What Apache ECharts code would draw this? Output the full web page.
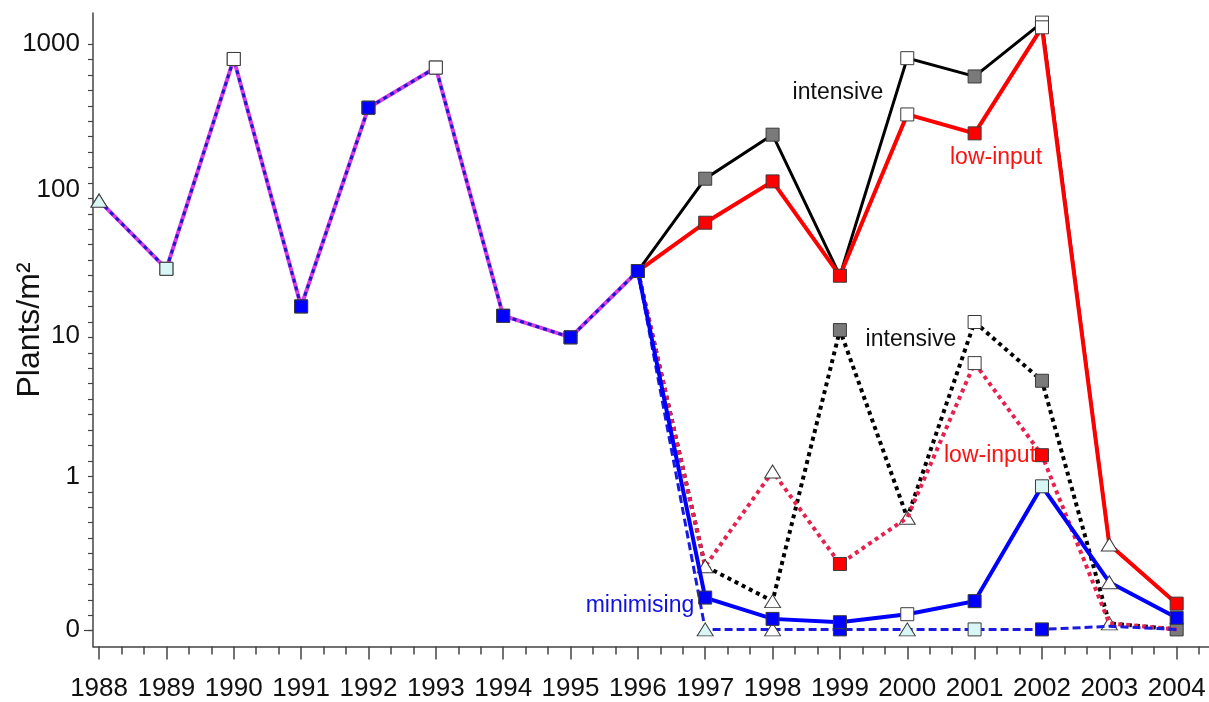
<!DOCTYPE html>
<html><head><meta charset="utf-8">
<script src="https://cdn.jsdelivr.net/npm/echarts@6/dist/echarts.min.js"></script>
<style>html,body{margin:0;padding:0;background:#fff}#c{width:1209px;height:702px}</style>
</head><body><div id="c"></div>
<script>
// ---- data ----
const historyYears = [1988, 1989, 1990, 1991, 1992, 1993, 1994, 1995, 1996];
const historyValues = [85, 29, 790, 16, 367, 690, 13.8, 9.8, 28];
const scenarioYears = [1996, 1997, 1998, 1999, 2000, 2001, 2002, 2003, 2004];
const intensiveSolid   = [28, 120, 240, 26, 800, 600, 1400, 0.28, 0.05];
const lowInputSolid    = [28, 60, 115, 26, 330, 245, 1300, 0.28, 0.05];
const minimisingSolid  = [28, 0.065, 0.018, 0.012, 0.027, 0.056, 0.85, 0.11, 0.02];
const intensiveDotted  = [28, 0.17, 0.056, 11, 0.48, 12.5, 4.9, 0.01, 0];
const lowInputDotted   = [28, 0.17, 1.1, 0.18, 0.48, 6.5, 1.45, 0.01, 0];
const minimisingDashed = [28, 0, 0, 0, 0, 0, 0, 0.005, 0];
const yTickLabels = [0, 1, 10, 100, 1000];
const xTickLabels = [1988,1989,1990,1991,1992,1993,1994,1995,1996,1997,1998,1999,2000,2001,2002,2003,2004];

// ---- marker codes (style, not values) ----
const historyMarks    = ['c','C','W','B','B','W','B','B','B'];
const intSolidMarks   = ['', 'G','G','', 'W','G','W','', ''];
const lowSolidMarks   = ['', 'R','R','R','W','R','W','w','R'];
const minSolidMarks   = ['', 'B','B','B','W','B','C','w','B'];
const intDotMarks     = ['', '', 'w','G','w','W','G','w','G'];
const lowDotMarks     = ['', 'w','w','R','', 'W','R','', ''];
const minDashMarks    = ['', 'c','w','B','c','C','B','', ''];

const OFFSET = 0.1;                       // axis is log10(value + 0.1)
const tr = v => Math.log10(v + OFFSET);
const FONT = '"Liberation Sans", Arial, sans-serif';

const markStyles = {
  G: {symbol: 'rect', fill: '#7a7a7a'},
  R: {symbol: 'rect', fill: '#ff0000'},
  B: {symbol: 'rect', fill: '#0000ff'},
  W: {symbol: 'rect', fill: '#ffffff'},
  C: {symbol: 'rect', fill: '#d8f6f6'},
  w: {symbol: 'triangle', fill: '#ffffff'},
  c: {symbol: 'triangle', fill: '#d8f6f6'}
};

function buildData(years, values, marks) {
  return years.map((yr, i) => {
    const m = markStyles[marks[i]];
    const item = {value: [yr, tr(values[i])]};
    if (!m) { item.symbol = 'none'; }
    else {
      item.symbol = m.symbol;
      item.symbolSize = m.symbol === 'rect' ? [13, 13] : [16, 13];
      item.itemStyle = {color: m.fill, borderColor: '#3a3a3a', borderWidth: 1};
    }
    return item;
  });
}

function lineSeries(name, years, values, marks, color, width, type, z) {
  return {
    name, type: 'line', data: buildData(years, values, marks),
    xAxisIndex: 0, yAxisIndex: 0, z,
    showSymbol: true,
    lineStyle: {color, width, type, cap: 'butt', join: 'miter'},
    itemStyle: {color},
    emphasis: {disabled: true}, silent: true
  };
}

// uniform y minor ticks (original plot style)
const yTicks = [];
for (let k = 0; k <= 38; k++) yTicks.push(3.0 - k * (4.0089 / 38));
const yMin = -1.1168, yMax = 3.2118;
const xMin = 1987.91, xMax = 2004.48;
const xMinor = [];
for (let y = 1988; y <= 2004; y++) { xMinor.push(y + 1/3, y + 2/3); }

const chart = echarts.init(document.getElementById('c'), null, {renderer: 'canvas'});
chart.setOption({
  animation: false,
  backgroundColor: '#ffffff',
  grid: {left: 93, right: 0, top: 13, bottom: 55.5, containLabel: false},
  xAxis: [
    {
      type: 'value', min: xMin, max: xMax, position: 'bottom',
      axisLine: {show: true, onZero: false, lineStyle: {color: '#444', width: 1.5}},
      axisTick: {show: true, customValues: xTickLabels, length: 13, lineStyle: {color: '#444', width: 1.5}},
      axisLabel: {show: true, customValues: xTickLabels, margin: 29, fontSize: 26, color: '#111', fontFamily: FONT,
                  formatter: v => String(Math.round(v))},
      splitLine: {show: false}
    },
    {
      type: 'value', min: xMin, max: xMax, position: 'bottom',
      axisLine: {show: false, onZero: false},
      axisTick: {show: true, customValues: xMinor, length: 8, lineStyle: {color: '#444', width: 1.5}},
      axisLabel: {show: false},
      splitLine: {show: false}
    }
  ],
  yAxis: [
    {
      type: 'value', min: yMin, max: yMax, position: 'left',
      axisLine: {show: true, onZero: false, lineStyle: {color: '#444', width: 1.5}},
      axisTick: {show: true, customValues: yTicks, length: 5, lineStyle: {color: '#444', width: 1.2}},
      axisLabel: {show: true, customValues: yTickLabels.map(tr), margin: 13, fontSize: 26, color: '#111', fontFamily: FONT,
                  formatter: v => String(Math.round(Math.pow(10, v) - OFFSET))},
      splitLine: {show: false}
    },
    {
      type: 'value', min: yMin, max: yMax, position: 'left',
      axisLine: {show: false, onZero: false},
      axisTick: {show: true, customValues: [yTicks[38]], length: 9, lineStyle: {color: '#444', width: 1.2}},
      axisLabel: {show: false},
      splitLine: {show: false}
    }
  ],
  series: [
    lineSeries('history', historyYears, historyValues, historyMarks, '#d43ce8', 4, 'solid', 2),
    lineSeries('history-dash', historyYears, historyValues, historyMarks.map(() => ''), '#1a1acc', 3, [4, 4], 2.1),
    lineSeries('intensive', scenarioYears, intensiveSolid, intSolidMarks, '#000000', 3, 'solid', 3),
    lineSeries('low-input', scenarioYears, lowInputSolid, lowSolidMarks, '#ff0000', 4, 'solid', 4),
    lineSeries('intensive dotted', scenarioYears, intensiveDotted, intDotMarks, '#000000', 4, [4, 4], 5),
    lineSeries('low-input dotted', scenarioYears, lowInputDotted, lowDotMarks, '#e8204e', 4, [4, 4], 6),
    lineSeries('minimising dashed', scenarioYears, minimisingDashed, minDashMarks, '#1a1ae0', 3, [8, 4], 6.5),
    lineSeries('minimising', scenarioYears, minimisingSolid, minSolidMarks, '#0000ff', 4, 'solid', 7),
    lineSeries('history-marks', historyYears, historyValues, historyMarks, '#d43ce8', 0, 'solid', 9)
  ],
  graphic: [
    {type: 'text', x: 30, y: 330, rotation: Math.PI / 2,
     style: {text: 'Plants/m²', font: '32px ' + FONT, fill: '#111', textAlign: 'center', textVerticalAlign: 'middle'}},
    {type: 'text', x: 838, y: 93, style: {text: 'intensive', font: '23px ' + FONT, fill: '#111', textAlign: 'center', textVerticalAlign: 'middle'}},
    {type: 'text', x: 996, y: 158, style: {text: 'low-input', font: '23px ' + FONT, fill: '#ff1010', textAlign: 'center', textVerticalAlign: 'middle'}},
    {type: 'text', x: 911, y: 340, style: {text: 'intensive', font: '23px ' + FONT, fill: '#111', textAlign: 'center', textVerticalAlign: 'middle'}},
    {type: 'text', x: 990, y: 456, style: {text: 'low-input', font: '23px ' + FONT, fill: '#ff1010', textAlign: 'center', textVerticalAlign: 'middle'}},
    {type: 'text', x: 640, y: 606, style: {text: 'minimising', font: '23px ' + FONT, fill: '#1010e0', textAlign: 'center', textVerticalAlign: 'middle'}}
  ]
});
</script>
</body></html>
